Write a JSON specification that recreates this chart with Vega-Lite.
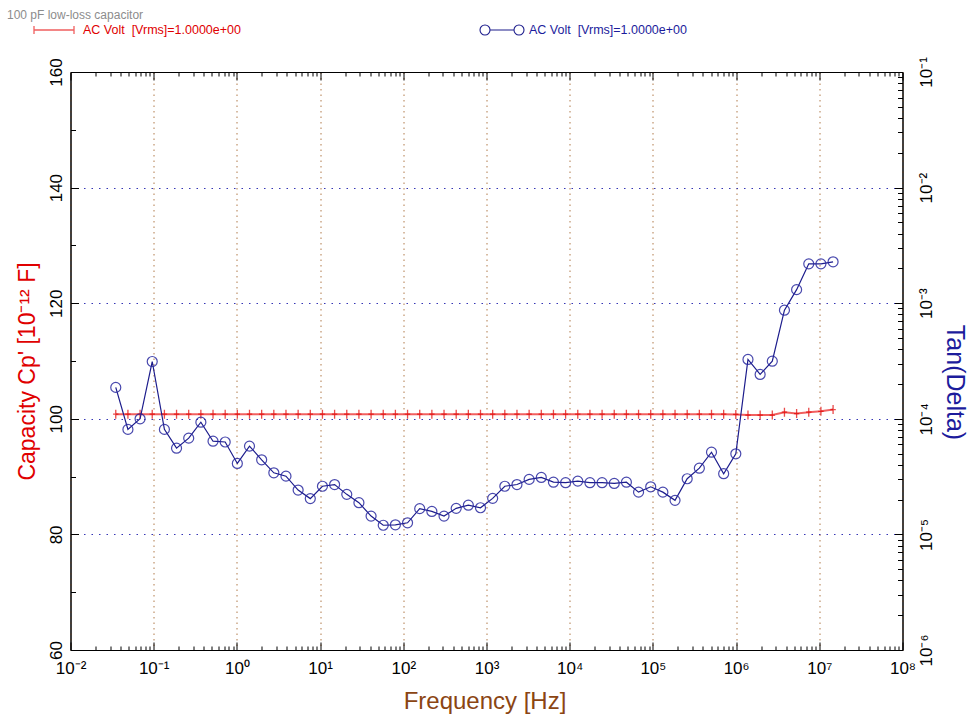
{
  "$schema": "https://vega.github.io/schema/vega-lite/v6.json",
  "width": 832,
  "height": 578,
  "autosize": {"type": "none"},
  "padding": {"left": 70.5, "top": 72, "right": 67.5, "bottom": 65},
  "background": "white",
  "config": {
    "font": "Liberation Sans",
    "view": {"stroke": "black", "strokeWidth": 1},
    "axis": {"labelFont": "Liberation Sans", "titleFont": "Liberation Sans", "titleFontWeight": "normal", "domainColor": "black", "tickColor": "black", "labelColor": "black"}
  },
  "title": {
    "text": "100 pF low-loss capacitor",
    "anchor": "start",
    "frame": "group",
    "dx": -63.5,
    "offset": -13,
    "fontSize": 12,
    "fontWeight": "normal",
    "color": "#8c8c8c",
    "font": "Liberation Sans"
  },
  "datasets": {
    "d": [
      {"f": 0.035, "cp": 100.8, "tan": 1.87e-4},
      {"f": 0.049, "cp": 100.8, "tan": 8.1e-5},
      {"f": 0.0686, "cp": 100.8, "tan": 1.0e-4},
      {"f": 0.096, "cp": 100.8, "tan": 3.13e-4},
      {"f": 0.1345, "cp": 100.8, "tan": 8.1e-5},
      {"f": 0.1882, "cp": 100.8, "tan": 5.57e-5},
      {"f": 0.2635, "cp": 100.8, "tan": 6.8e-5},
      {"f": 0.3689, "cp": 100.8, "tan": 9.35e-5},
      {"f": 0.5165, "cp": 100.8, "tan": 6.4e-5},
      {"f": 0.7231, "cp": 100.8, "tan": 6.3e-5},
      {"f": 1.012, "cp": 100.8, "tan": 4.11e-5},
      {"f": 1.417, "cp": 100.8, "tan": 5.8e-5},
      {"f": 1.984, "cp": 100.8, "tan": 4.42e-5},
      {"f": 2.778, "cp": 100.8, "tan": 3.41e-5},
      {"f": 3.889, "cp": 100.8, "tan": 3.19e-5},
      {"f": 5.445, "cp": 100.8, "tan": 2.42e-5},
      {"f": 7.623, "cp": 100.8, "tan": 2.04e-5},
      {"f": 10.67, "cp": 100.8, "tan": 2.61e-5},
      {"f": 14.94, "cp": 100.8, "tan": 2.70e-5},
      {"f": 20.92, "cp": 100.8, "tan": 2.22e-5},
      {"f": 29.28, "cp": 100.8, "tan": 1.88e-5},
      {"f": 41.0, "cp": 100.8, "tan": 1.44e-5},
      {"f": 57.4, "cp": 100.8, "tan": 1.20e-5},
      {"f": 80.36, "cp": 100.8, "tan": 1.21e-5},
      {"f": 112.5, "cp": 100.8, "tan": 1.26e-5},
      {"f": 157.5, "cp": 100.8, "tan": 1.67e-5},
      {"f": 220.5, "cp": 100.8, "tan": 1.58e-5},
      {"f": 308.7, "cp": 100.8, "tan": 1.44e-5},
      {"f": 432.2, "cp": 100.8, "tan": 1.68e-5},
      {"f": 605.1, "cp": 100.8, "tan": 1.79e-5},
      {"f": 847.1, "cp": 100.8, "tan": 1.70e-5},
      {"f": 1186, "cp": 100.8, "tan": 2.05e-5},
      {"f": 1660, "cp": 100.8, "tan": 2.61e-5},
      {"f": 2324, "cp": 100.8, "tan": 2.70e-5},
      {"f": 3254, "cp": 100.8, "tan": 2.99e-5},
      {"f": 4556, "cp": 100.8, "tan": 3.11e-5},
      {"f": 6378, "cp": 100.8, "tan": 2.83e-5},
      {"f": 8930, "cp": 100.8, "tan": 2.80e-5},
      {"f": 12502, "cp": 100.8, "tan": 2.89e-5},
      {"f": 17502, "cp": 100.8, "tan": 2.80e-5},
      {"f": 24503, "cp": 100.8, "tan": 2.80e-5},
      {"f": 34304, "cp": 100.8, "tan": 2.76e-5},
      {"f": 48026, "cp": 100.8, "tan": 2.83e-5},
      {"f": 67236, "cp": 100.8, "tan": 2.32e-5},
      {"f": 94131, "cp": 100.8, "tan": 2.58e-5},
      {"f": 131783, "cp": 100.8, "tan": 2.32e-5},
      {"f": 184496, "cp": 100.8, "tan": 1.97e-5},
      {"f": 258295, "cp": 100.8, "tan": 3.03e-5},
      {"f": 361613, "cp": 100.8, "tan": 3.74e-5},
      {"f": 506258, "cp": 100.8, "tan": 5.14e-5},
      {"f": 708761, "cp": 100.8, "tan": 3.35e-5},
      {"f": 992266, "cp": 100.75, "tan": 4.98e-5},
      {"f": 1389172, "cp": 100.65, "tan": 3.26e-4},
      {"f": 1944841, "cp": 100.65, "tan": 2.42e-4},
      {"f": 2722777, "cp": 100.65, "tan": 3.15e-4},
      {"f": 3811888, "cp": 101.15, "tan": 8.7e-4},
      {"f": 5336643, "cp": 100.9, "tan": 1.31e-3},
      {"f": 7471300, "cp": 101.15, "tan": 2.19e-3},
      {"f": 10459820, "cp": 101.3, "tan": 2.19e-3},
      {"f": 14643748, "cp": 101.6, "tan": 2.28e-3}
    ]
  },
  "layer": [
    {
      "data": {"name": "d"},
      "encoding": {
        "x": {
          "field": "f",
          "type": "quantitative",
          "scale": {"type": "log", "domain": [0.01, 100000000]},
          "axis": {
            "orient": "bottom",
            "values": [0.01,0.02,0.03,0.04,0.05,0.06,0.07,0.08,0.09,0.1,0.2,0.3,0.4,0.5,0.6,0.7,0.8,0.9,1,2,3,4,5,6,7,8,9,10,20,30,40,50,60,70,80,90,100,200,300,400,500,600,700,800,900,1000,2000,3000,4000,5000,6000,7000,8000,9000,10000,20000,30000,40000,50000,60000,70000,80000,90000,100000,200000,300000,400000,500000,600000,700000,800000,900000,1000000,2000000,3000000,4000000,5000000,6000000,7000000,8000000,9000000,10000000,20000000,30000000,40000000,50000000,60000000,70000000,80000000,90000000,100000000],
            "labelExpr": "abs(log(datum.value)/LN10 - round(log(datum.value)/LN10)) < 0.001 ? '10' + (round(log(datum.value)/LN10) < 0 ? '⁻' : '') + ['⁰','¹','²','³','⁴','⁵','⁶','⁷','⁸','⁹'][abs(round(log(datum.value)/LN10))] : ''",
            "tickSize": {"condition": {"test": "abs(log(datum.value)/LN10 - round(log(datum.value)/LN10)) < 0.001", "value": -8}, "value": -4},
            "grid": true,
            "gridColor": "#B07A4A",
            "gridDash": [1.5, 4],
            "gridOpacity": {"condition": {"test": "abs(log(datum.value)/LN10 - round(log(datum.value)/LN10)) < 0.001", "value": 1}, "value": 0},
            "labelFontSize": 17,
            "labelPadding": 18,
            "labelFlush": false,
            "labelOverlap": false,
            "labelBound": false,
            "title": "Frequency [Hz]",
            "titleColor": "#8B4513",
            "titleFontSize": 24,
            "titlePadding": 9,
            "titleX": 414
          }
        },
        "y": {
          "field": "cp",
          "type": "quantitative",
          "scale": {"domain": [60, 160], "nice": false, "zero": false},
          "axis": {
            "orient": "left",
            "values": [60,70,80,90,100,110,120,130,140,150,160],
            "labelExpr": "datum.value % 20 === 0 ? datum.label : ''",
            "tickSize": {"condition": {"test": "datum.value % 20 === 0", "value": -8}, "value": -5},
            "grid": false,
            "labelAngle": -90,
            "labelAlign": "center",
            "labelBaseline": "bottom",
            "labelFontSize": 17,
            "labelPadding": 13,
            "labelFlush": false,
            "labelOverlap": false,
            "labelBound": false,
            "title": "Capacity Cp' [10⁻¹² F]",
            "titleColor": "#E00000",
            "titleFontSize": 23,
            "titlePadding": 5,
            "titleY": 299
          }
        }
      },
      "layer": [
        {
          "mark": {"type": "line", "strokeWidth": 2, "opacity": 0.85},
          "encoding": {
            "color": {
              "datum": "AC Volt\u00a0 [Vrms]=1.0000e+00",
              "type": "nominal",
              "scale": {"range": ["#EE4444"]},
              "legend": {
                "orient": "none",
                "legendX": -37.5,
                "legendY": -63,
                "padding": 0,
                "title": null,
                "symbolType": "M-1,0L1,0M-1,-0.2L-1,0.2M1,-0.2L1,0.2",
                "symbolSize": 1600,
                "symbolStrokeWidth": 1.3,
                "symbolStrokeColor": "#E00000",
                "labelColor": "#E00000",
                "labelFontSize": 12.5,
                "labelFont": "Liberation Sans",
                "labelOffset": 8
              }
            }
          }
        },
        {
          "mark": {"type": "point", "shape": "M0,-1L0,1M-0.6,0L0.6,0", "filled": false, "color": "#E00000", "strokeWidth": 1.3, "size": 81}
        }
      ]
    },
    {
      "data": {"name": "d"},
      "encoding": {
        "x": {
          "field": "f",
          "type": "quantitative",
          "scale": {"type": "log", "domain": [0.01, 100000000]},
          "axis": {
            "orient": "top",
            "values": [0.01,0.02,0.03,0.04,0.05,0.06,0.07,0.08,0.09,0.1,0.2,0.3,0.4,0.5,0.6,0.7,0.8,0.9,1,2,3,4,5,6,7,8,9,10,20,30,40,50,60,70,80,90,100,200,300,400,500,600,700,800,900,1000,2000,3000,4000,5000,6000,7000,8000,9000,10000,20000,30000,40000,50000,60000,70000,80000,90000,100000,200000,300000,400000,500000,600000,700000,800000,900000,1000000,2000000,3000000,4000000,5000000,6000000,7000000,8000000,9000000,10000000,20000000,30000000,40000000,50000000,60000000,70000000,80000000,90000000,100000000],
            "labels": false,
            "grid": false,
            "tickSize": {"condition": {"test": "abs(log(datum.value)/LN10 - round(log(datum.value)/LN10)) < 0.001", "value": -8}, "value": -4},
            "title": null
          }
        },
        "y": {
          "field": "tan",
          "type": "quantitative",
          "scale": {"type": "log", "domain": [0.000001, 0.1], "nice": false},
          "axis": {
            "orient": "right",
            "values": [0.000001,0.000002,0.000003,0.000004,0.000005,0.000006,0.000007,0.000008,0.000009,0.00001,0.00002,0.00003,0.00004,0.00005,0.00006,0.00007,0.00008,0.00009,0.0001,0.0002,0.0003,0.0004,0.0005,0.0006,0.0007,0.0008,0.0009,0.001,0.002,0.003,0.004,0.005,0.006,0.007,0.008,0.009,0.01,0.02,0.03,0.04,0.05,0.06,0.07,0.08,0.09,0.1],
            "labelExpr": "abs(log(datum.value)/LN10 - round(log(datum.value)/LN10)) < 0.001 ? '10' + (round(log(datum.value)/LN10) < 0 ? '⁻' : '') + ['⁰','¹','²','³','⁴','⁵','⁶','⁷','⁸','⁹'][abs(round(log(datum.value)/LN10))] : ''",
            "tickSize": {"condition": {"test": "abs(log(datum.value)/LN10 - round(log(datum.value)/LN10)) < 0.001", "value": -8}, "value": -5},
            "grid": true,
            "gridColor": "#3535B5",
            "gridDash": [1.5, 6],
            "gridOpacity": {"condition": {"test": "abs(log(datum.value)/LN10 - round(log(datum.value)/LN10)) < 0.001 && datum.value > 0.000002 && datum.value < 0.05", "value": 1}, "value": 0},
            "labelAngle": -90,
            "labelAlign": "center",
            "labelBaseline": "top",
            "labelFontSize": 17,
            "labelPadding": 24,
            "labelFlush": false,
            "labelOverlap": false,
            "labelBound": false,
            "title": "Tan(Delta)",
            "titleColor": "#1C1C9C",
            "titleFontSize": 25,
            "titlePadding": 4,
            "titleY": 310
          }
        }
      },
      "layer": [
        {
          "mark": {"type": "line", "strokeWidth": 1.2},
          "encoding": {
            "color": {
              "datum": "AC Volt\u00a0 [Vrms]=1.0000e+00",
              "type": "nominal",
              "scale": {"range": ["#1C1C8C"]},
              "legend": {
                "orient": "none",
                "legendX": 410.5,
                "legendY": -63,
                "padding": 0,
                "title": null,
                "symbolType": "M-0.6,0L0.6,0M-0.6,0A0.25,0.25,0,1,1,-1.1,0A0.25,0.25,0,1,1,-0.6,0M1.1,0A0.25,0.25,0,1,1,0.6,0A0.25,0.25,0,1,1,1.1,0",
                "symbolSize": 1600,
                "symbolStrokeWidth": 1.1,
                "symbolStrokeColor": "#2a2a9a",
                "symbolFillColor": "transparent",
                "labelColor": "#1C1C9C",
                "labelFontSize": 12.5,
                "labelFont": "Liberation Sans",
                "labelOffset": 6
              }
            }
          }
        },
        {
          "mark": {"type": "point", "shape": "circle", "filled": false, "color": "#2a2aa0", "strokeWidth": 1.2, "opacity": 0.85, "size": 100}
        }
      ]
    }
  ],
  "resolve": {
    "scale": {"y": "independent", "color": "independent"},
    "axis": {"x": "independent", "y": "independent"},
    "legend": {"color": "independent"}
  }
}
